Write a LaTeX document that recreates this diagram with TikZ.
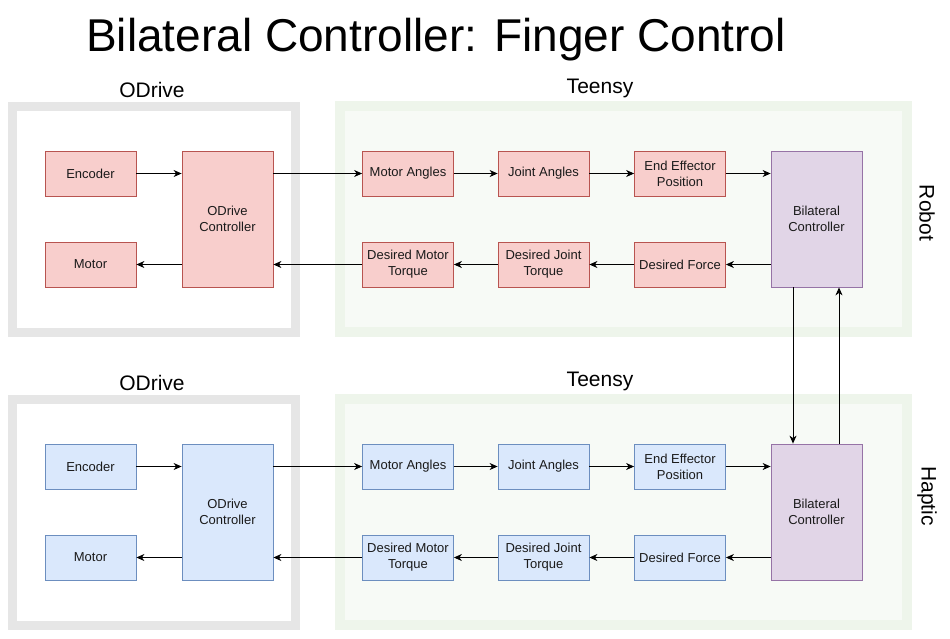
\documentclass[tikz,border=0pt]{standalone}
\usepackage{fontspec}
\setmainfont{Liberation Sans}
\usetikzlibrary{arrows.meta}
\definecolor{redfill}{HTML}{F8CECC}
\definecolor{redline}{HTML}{B85450}
\definecolor{bluefill}{HTML}{DAE8FC}
\definecolor{blueline}{HTML}{6C8EBF}
\definecolor{purpfill}{HTML}{E1D5E7}
\definecolor{purpline}{HTML}{9673A6}
\definecolor{grayframe}{HTML}{E6E6E6}
\definecolor{greenfill}{HTML}{F7FAF6}
\definecolor{greenframe}{HTML}{EEF5EB}
\definecolor{txt}{HTML}{1A1A1A}
\begin{document}
\begin{tikzpicture}[x=1pt,y=-1pt,
  box/.style={draw, line width=0.8pt, minimum width=91pt, minimum height=45pt, inner sep=0pt,
    align=center, font=\fontsize{13}{16}\selectfont, text=txt},
  tallbox/.style={box, minimum height=136pt},
  redbox/.style={box, fill=redfill, draw=redline},
  bluebox/.style={box, fill=bluefill, draw=blueline},
  purpbox/.style={tallbox, fill=purpfill, draw=purpline},
  odframe/.style={draw=grayframe, fill=white, line width=9pt},
  tnframe/.style={draw=greenframe, fill=greenfill, line width=10pt},
  arr/.style={draw=black, line width=0.9pt, -{Stealth[length=8pt,width=7pt,inset=2.5pt]}},
  grouplabel/.style={font=\fontsize{21}{24}\selectfont, anchor=base},
  sidelabel/.style={font=\fontsize{21}{24}\selectfont, rotate=-90}
]
\useasboundingbox (0,0) rectangle (950,638);
\node[font=\fontsize{46}{50}\selectfont, anchor=base] (title) at (436,51) {Bilateral Controller: Finger Control};

% frames
\draw[odframe] (12,106) rectangle (295,332);
\draw[tnframe] (340,106) rectangle (907,332);
\draw[odframe] (12,399) rectangle (295,625);
\draw[tnframe] (340,399) rectangle (907,625);

\node[grouplabel] (od1) at (152,97) {ODrive};
\node[grouplabel] (tn1) at (600,93) {Teensy};
\node[grouplabel] (od2) at (152,390) {ODrive};
\node[grouplabel] (tn2) at (600,386) {Teensy};
\node[sidelabel] (rob) at (927,213) {Robot};
\node[sidelabel] (hap) at (927,496) {Haptic};

% robot row
\node[redbox] (enc) at (90.5,173.5) {Encoder};
\node[redbox] (mot) at (90.5,264.5) {Motor};
\node[redbox, tallbox] (odc) at (227.5,219) {ODrive\\Controller};
\node[redbox] (ma) at (408,173.5) {Motor Angles};
\node[redbox] (ja) at (543.5,173.5) {Joint Angles};
\node[redbox] (ee) at (680,173.5) {End Effector\\Position};
\node[purpbox] (bc) at (816.5,219) {Bilateral\\Controller};
\node[redbox] (dmt) at (408,264.5) {Desired Motor\\Torque};
\node[redbox] (djt) at (543.5,264.5) {Desired Joint\\Torque};
\node[redbox] (df) at (680,264.5) {Desired Force};

% haptic row
\node[bluebox] (enc2) at (90.5,466.5) {Encoder};
\node[bluebox] (mot2) at (90.5,557.5) {Motor};
\node[bluebox, tallbox] (odc2) at (227.5,512) {ODrive\\Controller};
\node[bluebox] (ma2) at (408,466.5) {Motor Angles};
\node[bluebox] (ja2) at (543.5,466.5) {Joint Angles};
\node[bluebox] (ee2) at (680,466.5) {End Effector\\Position};
\node[purpbox] (bc2) at (816.5,512) {Bilateral\\Controller};
\node[bluebox] (dmt2) at (408,557.5) {Desired Motor\\Torque};
\node[bluebox] (djt2) at (543.5,557.5) {Desired Joint\\Torque};
\node[bluebox] (df2) at (680,557.5) {Desired Force};

% arrows robot
\draw[arr] (enc.east) -- (enc.east -| odc.west);
\draw[arr] (odc.east |- ma) -- (ma.west);
\draw[arr] (ma) -- (ja);
\draw[arr] (ja) -- (ee);
\draw[arr] (ee.east) -- (ee.east -| bc.west);
\draw[arr] (bc.west |- df) -- (df.east);
\draw[arr] (df) -- (djt);
\draw[arr] (djt) -- (dmt);
\draw[arr] (dmt.west) -- (dmt.west -| odc.east);
\draw[arr] (odc.west |- mot) -- (mot.east);

% arrows haptic
\draw[arr] (enc2.east) -- (enc2.east -| odc2.west);
\draw[arr] (odc2.east |- ma2) -- (ma2.west);
\draw[arr] (ma2) -- (ja2);
\draw[arr] (ja2) -- (ee2);
\draw[arr] (ee2.east) -- (ee2.east -| bc2.west);
\draw[arr] (bc2.west |- df2) -- (df2.east);
\draw[arr] (df2) -- (djt2);
\draw[arr] (djt2) -- (dmt2);
\draw[arr] (dmt2.west) -- (dmt2.west -| odc2.east);
\draw[arr] (odc2.west |- mot2) -- (mot2.east);

% between controllers
\draw[arr] ([xshift=-23.5pt]bc.south) -- ([xshift=-23.5pt]bc2.north);
\draw[arr] ([xshift=22.5pt]bc2.north) -- ([xshift=22.5pt]bc.south);
\end{tikzpicture}
\end{document}
